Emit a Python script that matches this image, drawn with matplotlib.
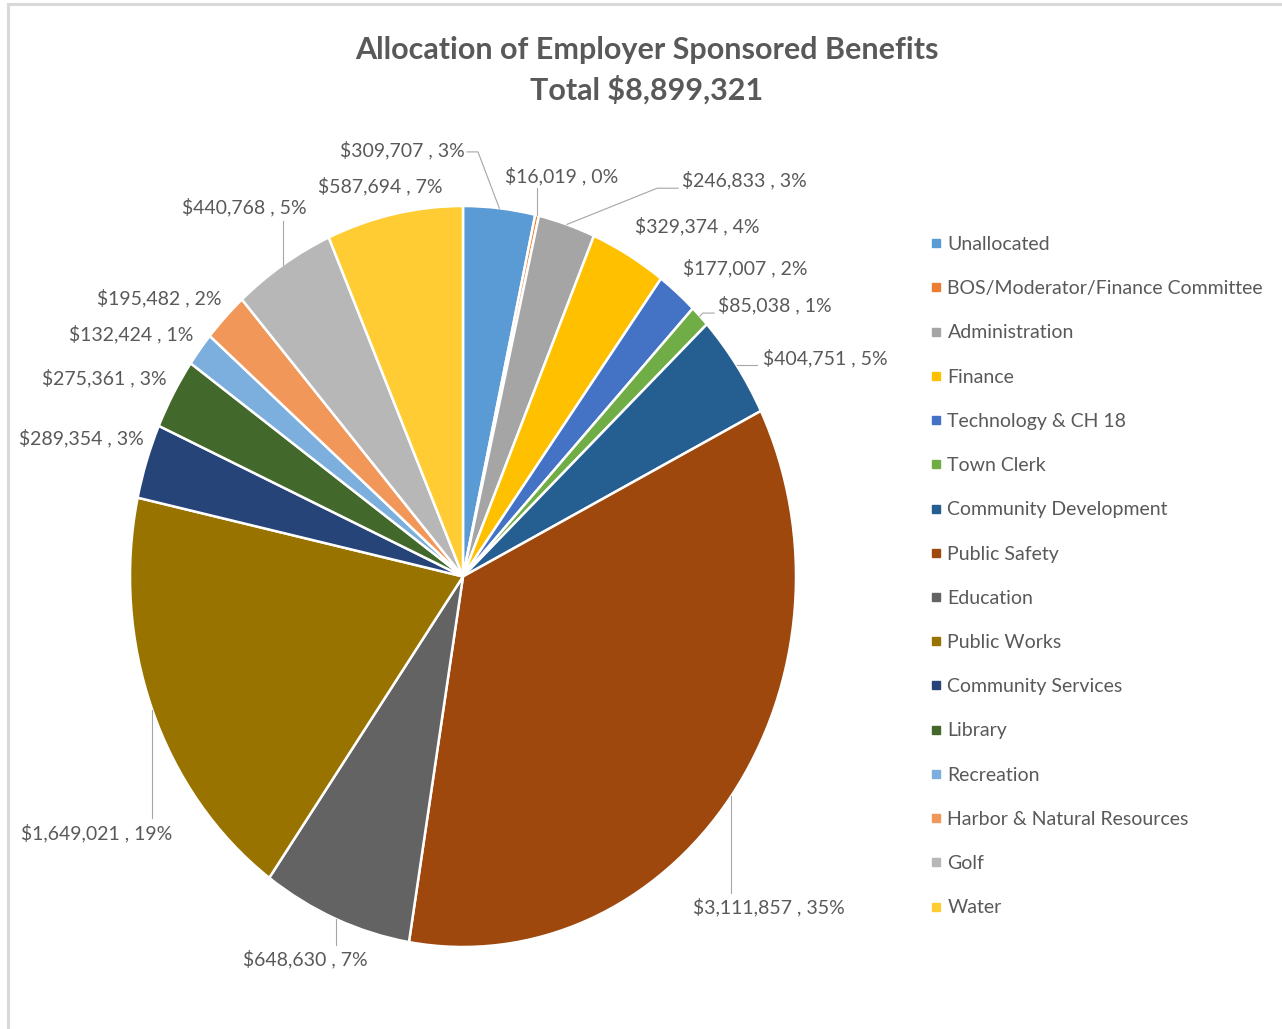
import numpy as np
import matplotlib
matplotlib.use('Agg')
import matplotlib.pyplot as plt
from matplotlib.lines import Line2D
from matplotlib.patches import Rectangle

plt.rcParams['font.family'] = ['Lato', 'DejaVu Sans']

departments = [
    'Unallocated', 'BOS/Moderator/Finance Committee', 'Administration', 'Finance',
    'Technology & CH 18', 'Town Clerk', 'Community Development', 'Public Safety',
    'Education', 'Public Works', 'Community Services', 'Library', 'Recreation',
    'Harbor & Natural Resources', 'Golf', 'Water',
]
amounts = [
    309707, 16019, 246833, 329374, 177007, 85038, 404751, 3111857,
    648630, 1649021, 289354, 275361, 132424, 195482, 440768, 587694,
]
colors = [
    '#5B9BD5', '#ED7D31', '#A5A5A5', '#FFC000', '#4472C4', '#70AD47', '#255E91', '#9E480E',
    '#636363', '#997300', '#264478', '#43682B', '#7CAFDD', '#F1975A', '#B7B7B7', '#FFCD33',
]

TEXT = '#595959'
LEADER = '#A6A6A6'

# label centres in pie units
label_pos = [
    (-0.183, 1.151), (0.297, 1.081), (0.844, 1.070), (0.703, 0.946),
    (0.847, 0.833), (0.937, 0.733), (1.087, 0.590), (0.919, -0.892),
    (-0.474, -1.032), (-1.099, -0.692), (-1.147, 0.374), (-1.078, 0.536),
    (-0.997, 0.655), (-0.913, 0.752), (-0.658, 0.997), (-0.249, 1.054),
]
# leader lines: fixed bend points from the label side; the wedge end is appended.
# 'v' = straight vertical line ending at y, 'h' = straight horizontal line ending at x
leaders = {
    0: [(0.012, 1.146), (0.045, 1.146)],
    1: ('v', 1.048),
    2: [(0.646, 1.048), (0.583, 1.048)],
    5: [(0.754, 0.711), (0.720, 0.711)],
    6: ('h', 0.883),
    7: ('v', -0.854),
    8: ('v', -0.995),
    9: ('v', -0.652),
    14: ('v', 0.959),
}

W, H = 1282, 1029
fig = plt.figure(figsize=(W / 100, H / 100), dpi=100)
fig.patch.set_facecolor('white')

# light chart-area frame (only left and top edges fall inside the image)
fig.add_artist(Rectangle((8 / W, -0.1), 1.2, 1.1 - 4 / H, transform=fig.transFigure,
                         facecolor='none', edgecolor='#D9D9D9', linewidth=2.2))

fig.text(647 / W, 1 - 70 / H, 'Allocation of Employer Sponsored Benefits\nTotal $8,899,321',
         ha='center', va='center', fontsize=22, fontweight='bold', color=TEXT,
         linespacing=1.45)

ax = fig.add_axes([130 / W, 1 - 947 / H, 666 / W, 741 / H])
wedges, _ = ax.pie(amounts, colors=colors, startangle=90, counterclock=False,
                   wedgeprops=dict(edgecolor='white', linewidth=1.8))
ax.set_aspect('auto')
ax.set_xlim(-1, 1)
ax.set_ylim(-1, 1)
ax.axis('off')

total = sum(amounts)
for i, (w, v) in enumerate(zip(wedges, amounts)):
    pct = round(100 * v / total)
    lx, ly = label_pos[i]
    ax.text(lx, ly, f'${v:,} , {pct}%', ha='center', va='center',
            fontsize=14, color=TEXT, clip_on=False)
    if i not in leaders:
        continue
    mid = np.deg2rad((w.theta1 + w.theta2) / 2)
    ex, ey = np.cos(mid), np.sin(mid)
    spec = leaders[i]
    if spec[0] == 'v':
        pts = [(ex, spec[1])]
    elif spec[0] == 'h':
        pts = [(spec[1], ey)]
    else:
        pts = list(spec)
    pts.append((ex, ey))
    xs, ys = zip(*pts)
    ax.plot(xs, ys, color=LEADER, linewidth=0.8, clip_on=False)

handles = [Line2D([], [], marker='s', linestyle='', color=c, markersize=5.5) for c in colors]
fig.legend(handles, departments, loc='upper left', bbox_to_anchor=(929 / W, 1 - 236 / H),
           frameon=False, fontsize=14, labelcolor=TEXT, handlelength=0.7,
           handletextpad=0.25, labelspacing=1.4, borderpad=0, borderaxespad=0)

fig.savefig('out.png', dpi=100, facecolor='white')
